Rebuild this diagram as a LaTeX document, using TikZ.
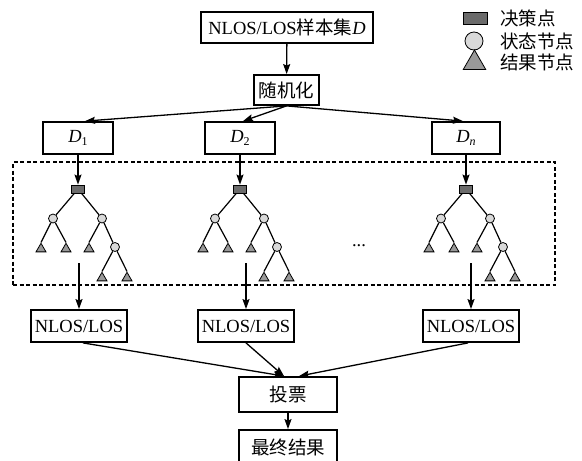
\documentclass[tikz,border=0pt]{standalone}
\usepackage{fontspec}
\setmainfont{Liberation Serif}
\newfontfamily\cjk{Noto Sans CJK SC}
\usetikzlibrary{shapes.geometric,arrows.meta}
\definecolor{decg}{gray}{0.42}
\definecolor{stg}{gray}{0.85}
\definecolor{trg}{gray}{0.6}
\begin{document}
\begin{tikzpicture}[x=1pt,y=-1pt,
  font=\fontsize{18.5}{20}\selectfont,
  box/.style={draw, line width=1.8pt, inner sep=0pt, minimum height=32pt, fill=white},
  arr/.style={line width=1.3pt, -{Stealth[length=10pt,width=7pt,inset=1.5pt]}},
  edg/.style={line width=1.2pt},
  dec/.style={draw, line width=0.8pt, fill=decg, inner sep=0pt, minimum width=13pt, minimum height=8pt},
  st/.style={draw, line width=0.8pt, fill=stg, circle, inner sep=0pt, minimum size=9pt},
  tri/.style={draw, line width=0.8pt, fill=trg, regular polygon, regular polygon sides=3, inner sep=0pt, minimum size=11.5pt},
  dashbox/.style={draw, dash pattern=on 4pt off 2.5pt, line width=1.6pt, inner sep=0pt}
]
\useasboundingbox (0,0) rectangle (582,461);
\clip (0,0) rectangle (582,461);

% top part
\node[box, minimum width=172pt, minimum height=31pt] (src) at (287,27.5) {NLOS/LOS{\cjk 样本集}\textit{D}};
\node[box, minimum width=65pt, minimum height=30pt] (rnd) at (286.5,90) {\cjk 随机化};
\node[box, minimum width=70pt] (d1) at (78,138) {\textit{D}\raisebox{-3.5pt}{\fontsize{12}{12}\selectfont 1}};
\node[box, minimum width=70pt] (d2) at (240,138) {\textit{D}\raisebox{-3.5pt}{\fontsize{12}{12}\selectfont 2}};
\node[box, minimum width=68pt] (d3) at (466,138) {\textit{D}\raisebox{-3.5pt}{\fontsize{12}{12}\selectfont\itshape n}};
\draw[arr] (src) -- (rnd);
\draw[arr] (rnd.south) -- ([xshift=7pt]d1.north);
\draw[arr] (rnd.south) -- ([xshift=3pt]d2.north);
\draw[arr] (rnd.south) -- ([xshift=-3pt]d3.north);

% dashed region
\node[dashbox, minimum width=542pt, minimum height=123pt] (pool) at (284,223.5) {};

% trees
\foreach \X/\k in {78/1, 240/2, 466/3}{
  \node[dec] (r\k) at (\X,189) {};
  \node[st] (a\k) at (\X-25,218.5) {};
  \node[st] (b\k) at (\X+24,218.5) {};
  \node[tri] (p\k) at (\X-37,249) {};
  \node[tri] (q\k) at (\X-12,249) {};
  \node[tri] (s\k) at (\X+11,249) {};
  \node[st] (c\k) at (\X+37,247) {};
  \node[tri] (u\k) at (\X+24,278) {};
  \node[tri] (v\k) at (\X+49,278) {};
  \draw[edg] (r\k) -- (a\k);
  \draw[edg] (r\k) -- (b\k);
  \draw[edg] (a\k) -- (p\k.north);
  \draw[edg] (a\k) -- (q\k.north);
  \draw[edg] (b\k) -- (s\k.north);
  \draw[edg] (b\k) -- (c\k);
  \draw[edg] (c\k) -- (u\k.north);
  \draw[edg] (c\k) -- (v\k.north);
}
\draw[arr] (d1) -- (r1);
\draw[arr] (d2) -- (r2);
\draw[arr] (d3) -- (r3);
\node[anchor=base] (dots) at (359,246.5) {...};

% outputs
\node[box, minimum width=96pt] (n1) at (79,326) {NLOS/LOS};
\node[box, minimum width=96pt] (n2) at (246,326) {NLOS/LOS};
\node[box, minimum width=96pt] (n3) at (471,326) {NLOS/LOS};
\coordinate (o1) at (79,263);
\coordinate (o2) at (246,263);
\coordinate (o3) at (471,263);
\draw[arr] (o1) -- (n1);
\draw[arr] (o2) -- (n2);
\draw[arr] (o3) -- (n3);

\node[box, minimum width=98pt, minimum height=35pt] (vote) at (288,394.5) {\cjk 投票};
\node[box, minimum width=98pt, minimum height=35pt] (final) at (288,447.5) {\cjk 最终结果};
\draw[arr] ([xshift=4pt]n1.south) -- ([xshift=-4pt]vote.north);
\draw[arr] (n2.south) -- ([xshift=-4pt]vote.north);
\draw[arr] ([xshift=-3pt]n3.south) -- ([xshift=11pt]vote.north);
\draw[arr] (vote) -- (final);

% legend
\node[dec, minimum width=24pt, minimum height=12pt] (ld) at (475,18) {};
\node[st, minimum size=18pt] (ls) at (474,41) {};
\node[tri, minimum size=26pt] (lt) at (474.5,63) {};
\node[anchor=west, inner sep=0pt] (ldt) at (500,18) {\cjk 决策点};
\node[anchor=west, inner sep=0pt] (lst) at (500,41) {\cjk 状态节点};
\node[anchor=west, inner sep=0pt] (ltt) at (500,62) {\cjk 结果节点};
\end{tikzpicture}
\end{document}
